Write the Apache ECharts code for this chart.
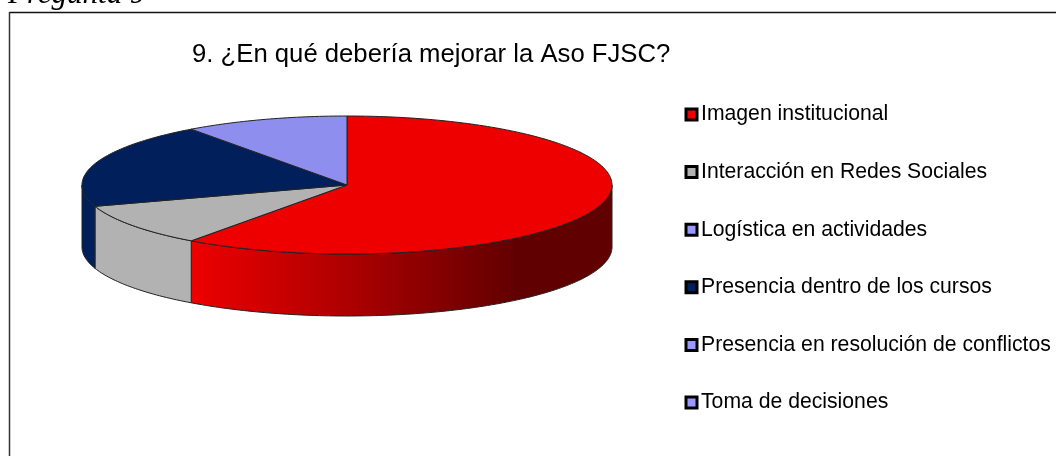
<!DOCTYPE html>
<html><head><meta charset="utf-8">
<style>html,body{margin:0;padding:0;background:#fff}#c{width:1056px;height:456px}</style>
<script src="https://cdn.jsdelivr.net/npm/echarts@6/dist/echarts.min.js"></script>
</head><body><div id="c"></div>
<script>
const categories = ['Imagen institucional','Interacción en Redes Sociales','Logística en actividades','Presencia dentro de los cursos','Presencia en resolución de conflictos','Toma de decisiones'];
const values = [60,10,0,20,0,10];
const topColors = ['#EE0000','#B2B2B2','#8E8EEE','#001F5B','#8E8EEE','#8E8EEE'];
const legendColors = ['#EE0000','#B2B2B2','#9999FF','#001F5B','#9999FF','#9999FF'];
const titleText = '9. ¿En qué debería mejorar la Aso FJSC?';
const captionText = 'Pregunta 9';

const CX=347, CY=185, RX=265, RY=69, DEPTH=62;
const total = values.reduce((a,b)=>a+b,0);
const starts = []; values.reduce((a,v,i)=>(starts[i]=a,a+v),0);
const pt=(deg,dy)=>{const t=deg*Math.PI/180;return [CX+RX*Math.sin(t),CY-RY*Math.cos(t)+(dy||0)];};
function arc(a,b,dy){const n=Math.max(2,Math.ceil(Math.abs(b-a)));const r=[];for(let i=0;i<=n;i++)r.push(pt(a+(b-a)*i/n,dy));return r;}

function wallFill(i){
  if(i!==0) return topColors[i];
  return {type:'linear',x:0,y:0,x2:1,y2:0,colorStops:[{offset:0,color:'#EE0000'},{offset:0.4,color:'#A80000'},{offset:0.78,color:'#600000'},{offset:1,color:'#600000'}]};
}
const series = categories.map((name,i)=>({
  type:'custom', name, coordinateSystem:'none',
  itemStyle:{color:legendColors[i]},
  data:[values[i]],
  renderItem(){
    const children=[];
    const a=starts[i]/total*360, b=(starts[i]+values[i])/total*360;
    if(b<=a) return {type:'group',children};
    const wa=Math.max(a,90), wb=Math.min(b,270);
    if(wb>wa){
      const top=arc(wa,wb,0), bot=arc(wb,wa,DEPTH);
      children.push({type:'polygon',z2:1,shape:{points:top.concat(bot)},style:{fill:wallFill(i),stroke:'#222',lineWidth:1,lineJoin:'round'}});
    }
    children.push({type:'polygon',z2:2,shape:{points:[[CX,CY]].concat(arc(a,b,0))},style:{fill:topColors[i],stroke:'#222',lineWidth:1,lineJoin:'round'}});
    return {type:'group',children};
  }
}));

const option={
  animation:false,
  backgroundColor:'#fff',
  title:{text:titleText,left:192,top:42,padding:0,textStyle:{fontFamily:'Liberation Sans',fontSize:25.7,fontWeight:'normal',color:'#000'}},
  legend:{orient:'vertical',left:684.5,top:103,padding:0,icon:'rect',itemWidth:11,itemHeight:11,itemGap:34.6,selectedMode:false,
    data:categories,
    itemStyle:{borderColor:'#000',borderWidth:3},
    textStyle:{fontFamily:'Liberation Sans',fontSize:21.2,color:'#000',lineHeight:23,padding:[0,0,0,-1]}},
  graphic:[
    {type:'line',silent:true,shape:{x1:9.5,y1:12.5,x2:1056,y2:12.5},style:{stroke:'#111',lineWidth:1.5}},
    {type:'line',silent:true,shape:{x1:9.5,y1:12,x2:9.5,y2:456},style:{stroke:'#333',lineWidth:1.5}},
    {type:'text',silent:true,left:8,top:-21,style:{text:captionText,font:'italic 31px "Liberation Serif"',fill:'#000'}}
  ],
  series
};
echarts.init(document.getElementById('c'),null,{renderer:'canvas'}).setOption(option);
</script></body></html>
